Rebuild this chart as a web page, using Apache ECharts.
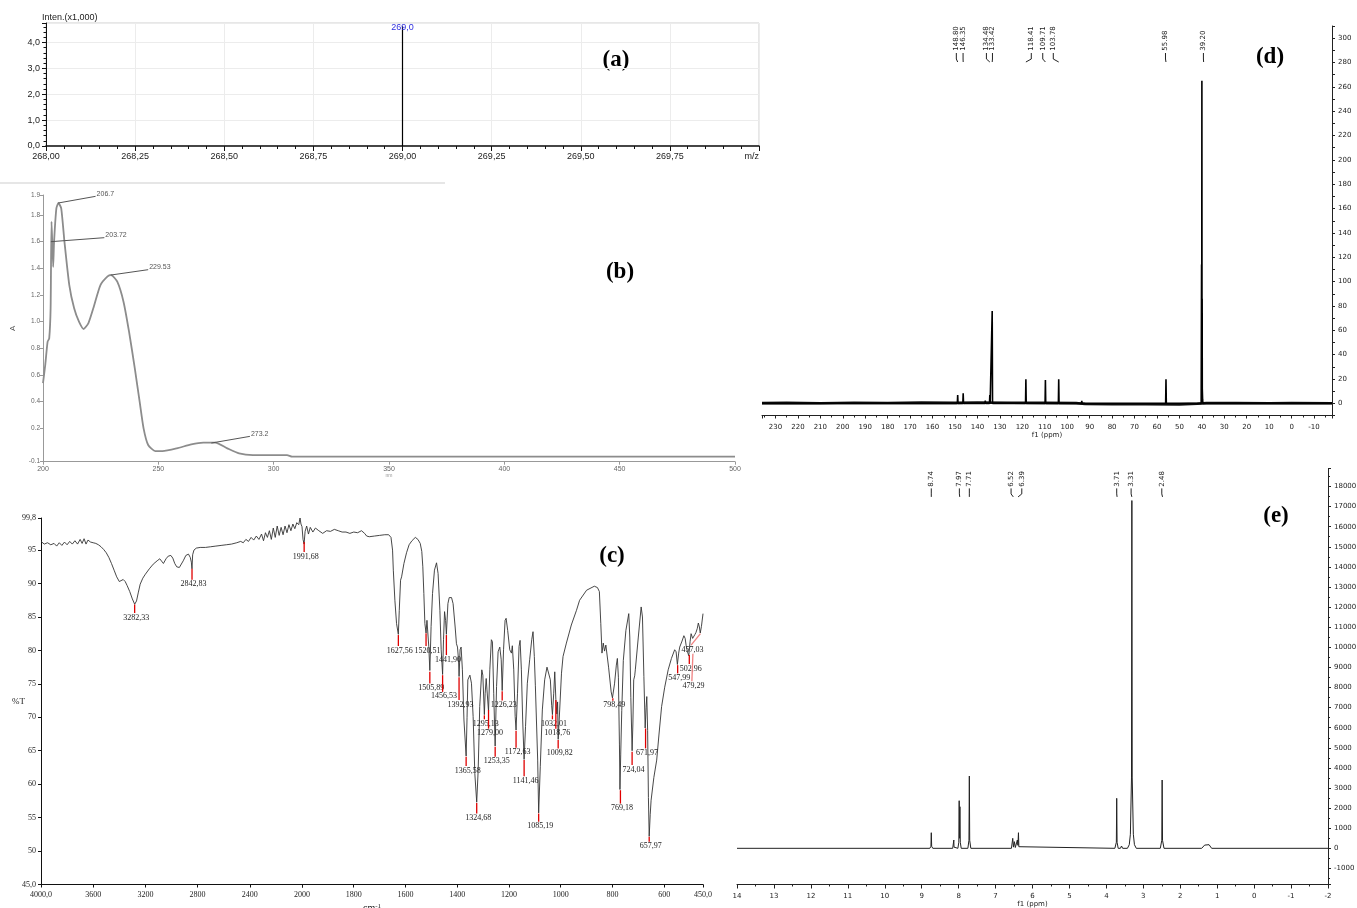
<!DOCTYPE html>
<html><head><meta charset="utf-8">
<script src="https://cdn.jsdelivr.net/npm/echarts@6/dist/echarts.min.js"></script>
<style>html,body{margin:0;padding:0;background:#fff}#c{width:1357px;height:908px}</style>
</head><body><div id="c"></div>
<script>
const SANS='Liberation Sans', SERIF='Liberation Serif', NMRF='DejaVu Sans';

// ---------- (a) mass spectrum ----------
const msMz=[269.0];
const msInten=[4.62];
const msLabels=['269,0'];

// ---------- (b) UV-Vis ----------
const uvSpectrum=[[200,0.54],[201,0.68],[202,0.85],[202.7,0.875],[203.3,1.1],[203.7,1.75],[204.4,1.41],[204.8,1.6],[205.8,1.85],[206.7,1.89],[207.9,1.85],[209.3,1.6],[211.4,1.275],[213.5,1.1],[215.6,1.0],[217.6,0.945],[219.7,0.99],[221.8,1.1],[224.9,1.275],[228,1.34],[229.5,1.35],[232.2,1.3],[234.9,1.15],[237.3,0.925],[239.8,0.65],[241.9,0.4],[243.6,0.2],[245.6,0.075],[248.7,0.03],[251.8,0.03],[258,0.05],[264.3,0.08],[269.5,0.093],[274.7,0.093],[279.9,0.05],[285,0.0125],[291,0.0],[305.8,0.0],[308,-0.012],[500,-0.012]];
const uvPeakText=['206.7','203.72','229.53','273.2'];
const uvLeaderFrom=[[206.6,1.89],[203.4,1.6],[229.5,1.35],[273.0,0.09]];
const uvLeaderTo=[[222.8,1.94],[226.6,1.63],[245.6,1.39],[289.7,0.14]];

// ---------- (c) FT-IR ----------
const irSpectrum=[[4000,96.3],[3975,95.9],[3950,96.1],[3925,95.8],[3900,96.0],[3880,95.6],[3860,96.1],[3840,95.7],[3820,96.2],[3800,95.8],[3780,96.3],[3760,95.9],[3740,96.4],[3720,95.9],[3700,96.6],[3685,96.0],[3670,96.7],[3655,95.9],[3640,96.5],[3620,96.2],[3600,96.1],[3580,96.0],[3560,95.8],[3540,95.5],[3520,95.1],[3500,94.6],[3480,93.9],[3460,93.0],[3440,92.0],[3420,91.0],[3400,90.3],[3385,90.4],[3370,90.6],[3355,90.3],[3340,89.7],[3320,88.8],[3300,87.7],[3282,86.9],[3268,87.4],[3255,88.6],[3240,89.9],[3220,90.8],[3200,91.4],[3170,92.2],[3140,92.9],[3110,93.4],[3090,93.7],[3075,93.6],[3062,93.0],[3052,92.9],[3042,93.7],[3025,94.1],[3005,94.2],[2990,93.8],[2975,93.0],[2960,92.5],[2940,92.4],[2925,92.6],[2910,93.4],[2890,94.2],[2870,94.4],[2856,93.9],[2848,93.2],[2843,92.2],[2838,94.3],[2828,95.0],[2810,95.3],[2780,95.4],[2740,95.4],[2700,95.5],[2660,95.6],[2620,95.7],[2580,95.8],[2540,95.9],[2500,96.1],[2470,96.3],[2450,96.1],[2430,96.6],[2410,96.3],[2390,96.9],[2370,96.5],[2350,97.1],[2330,96.6],[2310,97.4],[2295,96.4],[2280,97.6],[2265,96.9],[2250,97.9],[2235,96.6],[2220,98.3],[2205,96.9],[2190,98.6],[2175,97.2],[2160,98.4],[2145,97.3],[2130,98.6],[2115,97.6],[2100,98.8],[2085,97.9],[2070,98.9],[2055,98.2],[2040,99.1],[2025,98.8],[2015,99.8],[2008,98.9],[2000,98.5],
[1996,96.6],[1992,95.9],[1988,97.8],[1982,98.6],[1975,97.4],[1968,98.4],[1958,97.7],[1948,98.3],[1935,97.9],[1920,97.5],[1905,97.9],[1890,97.8],[1875,98.1],[1860,97.9],[1845,97.7],[1830,97.7],[1815,97.5],[1800,97.7],[1785,97.6],[1770,97.9],[1758,97.5],[1750,97.1],[1740,97.0],[1720,97.1],[1700,97.2],[1680,97.3],[1665,97.3],[1656,96.9],[1650,95.0],[1647,92.0],[1641,87.5],[1634.5,84.0],[1627.6,82.4],[1624,86.0],[1619,90.5],[1615,91.0],[1611,90.8],[1606,93.0],[1596,94.6],[1586,95.8],[1575,96.4],[1562,96.9],[1552,96.6],[1543,96.0],[1537,94.8],[1533,92.5],[1529,88.5],[1525,84.0],[1520.5,82.6],[1517,84.5],[1513,84.3],[1510,80.6],[1505.9,77.0],[1501,83.6],[1495.5,88.5],[1488,92.0],[1480,93.1],[1474,91.5],[1467,86.0],[1462,80.1],[1456.5,76.4],[1453,81.6],[1449,85.8],[1445,84.5],[1441.9,82.4],[1436,87.0],[1431,87.9],[1422,87.9],[1416,87.0],[1408,83.5],[1403,81.0],[1399,80.5],[1395,78.6],[1392.9,76.1],[1389,80.1],[1385,80.5],[1380,77.1],[1374,69.6],[1365.6,64.2],[1362,70.0],[1359,75.6],[1351,76.3],[1345,75.1],[1338.5,70.1],[1332,61.6],[1324.7,57.3],[1319,62.1],[1313,71.6],[1305,77.1],[1301,76.3],[1295.1,70.4],[1292,73.6],[1288,75.8],[1285,74.1],[1279,70.9],[1274,77.1],[1268,81.6],[1264,81.3],[1259,73.6],[1253.4,65.7],[1248,74.6],[1242,79.8],[1235.5,80.5],[1230,78.6],[1226.2,74.0],[1221,80.1],[1215,84.5],[1211,84.8],[1205,83.0],[1197,80.1],[1190.5,79.6],[1187,80.7],[1181.5,77.1],[1176,70.1],[1172.6,68.1],[1167,73.6],[1161,80.6],[1157,81.5],[1152,77.1],[1147,69.6],[1141.5,63.7],[1136,68.6],[1129,75.1],[1120,78.6],[1112,81.6],[1107,82.8],[1102,79.1],[1098,74.8],[1094,74.6],[1089,63.6],[1085.2,55.7],[1079,62.6],[1071,71.1],[1062,75.6],[1053,77.5],[1046,77.6],[1040,75.6],[1035,71.8],[1032,70.4],[1027,73.6],[1023,76.8],[1018.8,72.7],[1015,70.5],[1012,72.3],[1009.8,66.7],[1004,71.1],[997,76.6],[991,79.1],[978,81.1],[959,83.8],[939,86.0],[927,87.5],[900,89.0],[870,89.6],[858,89.4],[850.6,88.8],[845,84.0],[840.5,79.6],[835.5,81.1],[830.5,79.9],[825.5,80.8],[815,77.5],[805,73.8],[800,72.9],[798.5,72.8],[792,75.0],[785,77.8],[781,78.8],[777,76.0],[773,66.0],[771,59.2],[768,64.5],[764,71.0],[758,78.5],[748,83.0],[737,85.5],[733,82.0],[729,73.0],[724,65.0],[721,69.0],[717.8,75.6],[714,76.2],[711.6,77.1],[700,82.0],[689,86.5],[684,85.0],[678.5,76.1],[673.5,68.4],[670,71.5],[667.3,73.1],[664,68.0],[661,58.0],[658,52.2],[654,55.5],[650.6,57.6],[640,61.0],[629,63.6],[620,67.5],[610,71.6],[598,74.5],[584.6,77.1],[572,78.8],[559.5,80.1],[554,79.8],[549,77.9],[544,79.6],[540,80.5],[531,81.4],[523.9,82.2],[519,81.8],[515,80.7],[510,79.8],[505,79.2],[500,81.3],[496,82.5],[490,81.8],[486,81.6],[481,82.4],[477,82.7],[472,83.3],[468,84.1],[464,83.5],[460.6,82.6],[456,83.6],[450,85.5]];
const irPeakWave=[3282.33,2842.83,1991.68,1627.56,1520.51,1505.89,1456.53,1441.90,1392.93,1365.58,1324.68,1295.13,1279.00,1253.35,1226.23,1172.63,1141.46,1085.19,1032.01,1018.76,1009.82,798.49,769.18,724.04,671.97,657.97,547.99,502.96,479.29,457.03];
const irMarkTop=[86.88,92.22,96.21,82.3,82.55,76.8,76.3,82.3,75.97,64.1,57.2,70.3,71.1,65.6,73.9,68.0,63.6,55.6,70.3,72.6,66.6,72.83,59.1,64.85,68.34,52.13,77.8,79.3,79.5,82.5];
const irMarkBottom=[85.58,90.57,94.71,80.66,80.66,75.07,73.8,79.3,72.58,62.7,55.6,69.7,68.3,64.1,72.5,65.45,61.2,54.4,69.7,68.3,65.35,72.47,57.1,62.85,65.35,51.38,76.57,77.96,75.4,80.8];
const irLeaderStart={'479.29':489,'457.03':460};
const irLeaderEnd={'479.29':493,'457.03':496};

// ---------- (d) 13C NMR ----------
const c13PeakPpm=[148.80,146.35,134.48,133.42,118.41,109.71,103.78,55.98];
const c13PeakInt=[6.8,8.2,6.8,75.9,19.7,19.2,19.7,19.7];
const c13MinorPpm=[136.5,93.5];
const c13MinorInt=[2.2,2.0];
const dmsoPpm=[40.3,40.12,40.05,39.98,39.92,39.86,39.8,39.74,39.66,39.5];
const dmsoInt=[0,114,25,265,30,86,12,11,3,0];
const c13BasePpm=[236,225,210,195,180,165,150,140,125,110,96,92,80,65,50,42,38,25,10,0,-18];
const c13BaseInt=[0.2,0.4,0.1,0.5,0.3,0.6,0.4,0.7,0.5,0.4,0.2,-0.5,-0.7,-0.8,-0.9,-0.4,0.2,0.3,0.1,0.2,0.1];
const c13LabelText=['148.80','146.35','134.48','133.42','118.41','109.71','103.78','55.98','39.20'];
const c13LabelPos=[149.4,146.4,136.0,133.3,116.0,110.9,106.2,56.2,39.3];
const c13LabelTarget=[148.80,146.35,134.48,133.42,118.41,109.71,103.78,55.98,39.20];

// ---------- (e) 1H NMR ----------
const h1Spectrum=[[14,0],[8.78,0],[8.75,100],[8.74,776],[8.73,100],[8.70,0],[8.16,0],[8.135,60],[8.13,413],[8.125,60],[8.10,0],[8.02,0],[7.995,300],[7.985,2368],[7.975,500],[7.965,2070],[7.955,300],[7.93,0],[7.75,0],[7.72,400],[7.71,3597],[7.70,400],[7.67,0],[6.57,0],[6.545,80],[6.535,497],[6.515,60],[6.49,330],[6.465,40],[6.42,80],[6.41,413],[6.395,150],[6.38,776],[6.37,80],[6.34,0],[3.77,0],[3.73,300],[3.72,2487],[3.71,300],[3.68,0],[3.62,0],[3.59,115],[3.56,0],[3.43,0],[3.38,180],[3.35,700],[3.32,3500],[3.31,17300],[3.30,3500],[3.27,700],[3.24,180],[3.19,0],[2.54,0],[2.50,400],[2.49,3398],[2.48,400],[2.44,0],[1.42,0],[1.34,160],[1.29,90],[1.22,180],[1.15,0],[-2,0]];
const h1LabelText=['8.74','7.97','7.71','6.52','6.39','3.71','3.31','2.48'];
const h1LabelPos=[8.74,7.98,7.71,6.58,6.29,3.72,3.33,2.50];
const h1LabelTarget=[8.74,7.97,7.71,6.52,6.39,3.71,3.31,2.48];

// ---------- helpers ----------
const noSplit={show:false};
function nmrLabels(xi,yi,pos,target,texts,o){
  return {type:'custom',xAxisIndex:xi,yAxisIndex:yi,clip:false,silent:true,z:6,
    data:pos.map((p,i)=>[p,target[i]]),
    renderItem(params,api){
      const i=params.dataIndex, y0=params.coordSys.y;
      const xl=api.coord([api.value(0),0])[0];
      const xp=api.coord([api.value(1),0])[0];
      return {type:'group',children:[
        {type:'text',x:xl,y:y0+o.tb,rotation:Math.PI/2,style:{text:texts[i],fill:'#222',font:'7px "'+NMRF+'"',align:'left',verticalAlign:'middle'}},
        {type:'line',shape:{x1:xl,y1:y0+o.l1,x2:xl,y2:y0+o.l2},style:{stroke:'#222',lineWidth:1}},
        {type:'line',shape:{x1:xl,y1:y0+o.l2,x2:xp,y2:y0+o.l3},style:{stroke:'#222',lineWidth:1}}
      ]};
    }};
}
function irMarks(xi,yi,filterFn){
  const data=irPeakWave.map((w,i)=>[w,irMarkTop[i],irMarkBottom[i]]).filter(d=>filterFn(d[0]));
  return {type:'custom',xAxisIndex:xi,yAxisIndex:yi,clip:false,silent:true,z:6,data,
    renderItem(params,api){
      const w=api.value(0);
      const key=String(w);
      const ws=irLeaderStart[key]!==undefined?irLeaderStart[key]:w;
      const we=irLeaderEnd[key]!==undefined?irLeaderEnd[key]:w;
      const p1=api.coord([ws,api.value(1)]);
      const p2=api.coord([we,api.value(2)]);
      const col=irLeaderStart[key]!==undefined?'#f08282':'#e00000';
      return {type:'group',children:[
        {type:'line',shape:{x1:p1[0],y1:p1[1],x2:p2[0],y2:p2[1]},style:{stroke:col,lineWidth:1.3}},
        {type:'text',x:p2[0]+1.5,y:p2[1]+0.5,style:{text:w.toFixed(2).replace('.',','),fill:'#222',font:'8px "'+SERIF+'"',align:'center',verticalAlign:'top'}}
      ]};
    }};
}

// build 13C stick trace from peak arrays
const c13Trace=[];
c13PeakPpm.forEach((p,i)=>{c13Trace.push([p+0.15,0],[p,c13PeakInt[i]],[p-0.15,0]);});
c13MinorPpm.forEach((p,i)=>{c13Trace.push([p+0.15,0],[p,c13MinorInt[i]],[p-0.15,0]);});
dmsoPpm.forEach((p,i)=>c13Trace.push([p,dmsoInt[i]]));
c13Trace.push([236,0],[-18,0]);
c13Trace.sort((a,b)=>b[0]-a[0]);
const c13Base=c13BasePpm.map((p,i)=>[p,c13BaseInt[i]]);

const msData=[];
msMz.forEach((m,i)=>{msData.push([m,0],[m,msInten[i]]);});

const irHi=irSpectrum.filter(p=>p[0]>=2000);
const irLo=irSpectrum.filter(p=>p[0]<=2000);

const gridBase={containLabel:false,outerBoundsMode:'none'};
const option={
  animation:false,
  backgroundColor:'#ffffff',
  textStyle:{fontFamily:SANS},
  grid:[
    Object.assign({left:46,top:23,width:713,height:123,show:true,borderColor:'#cfcfcf',borderWidth:1},gridBase),
    Object.assign({left:43,top:195,width:692,height:266.7},gridBase),
    Object.assign({left:41,top:518,width:261,height:366.5},gridBase),
    Object.assign({left:302,top:518,width:401,height:366.5},gridBase),
    Object.assign({left:762,top:26,width:570,height:389.5},gridBase),
    Object.assign({left:737,top:468.4,width:591,height:416.1},gridBase)
  ],
  xAxis:[
    {gridIndex:0,type:'value',min:268,max:270,interval:0.25,
     axisLine:{onZero:false,lineStyle:{color:'#111',width:1.5}},
     axisTick:{length:5,lineStyle:{color:'#111'}},
     minorTick:{show:true,splitNumber:5,length:3,lineStyle:{color:'#111'}},
     axisLabel:{margin:6,fontSize:9,color:'#222',fontFamily:SANS,alignMaxLabel:'right',
       formatter:v=>v===270?'m/z':v.toFixed(2).replace('.',',')},
     splitLine:{show:true,lineStyle:{color:'#ececec'}}},
    {gridIndex:1,type:'value',min:200,max:500,interval:50,
     axisLine:{onZero:false,lineStyle:{color:'#999',width:1}},
     axisTick:{length:3,lineStyle:{color:'#999'}},
     axisLabel:{margin:4,fontSize:7,color:'#666',fontFamily:SANS},
     splitLine:noSplit,
     name:'nm',nameLocation:'middle',nameGap:10,nameTextStyle:{fontSize:5,color:'#999'}},
    {gridIndex:2,type:'value',min:2000,max:4000,interval:400,inverse:true,
     axisLine:{onZero:false,lineStyle:{color:'#111',width:1}},
     axisTick:{length:3,lineStyle:{color:'#111'}},
     axisLabel:{margin:6,fontSize:8,color:'#222',fontFamily:SERIF,
       formatter:v=>v===4000?'4000,0':(v===2000?'':String(v))},
     splitLine:noSplit},
    {gridIndex:3,type:'value',min:450,max:2000,splitNumber:8,inverse:true,
     axisLine:{onZero:false,lineStyle:{color:'#111',width:1}},
     axisTick:{length:3,lineStyle:{color:'#111'}},
     axisLabel:{margin:6,fontSize:8,color:'#222',fontFamily:SERIF,showMinLabel:true,showMaxLabel:true,
       formatter:v=>v===450?'450,0':String(Math.round(v))},
     splitLine:noSplit},
    {gridIndex:4,type:'value',min:-18,max:236,splitNumber:25,inverse:true,
     axisLine:{onZero:false,lineStyle:{color:'#222',width:1}},
     axisTick:{length:3,lineStyle:{color:'#222'}},
     minorTick:{show:true,splitNumber:2,length:2,lineStyle:{color:'#222'}},
     axisLabel:{margin:8,fontSize:7,color:'#222',fontFamily:NMRF,
       formatter:v=>(Math.round(v)===v && v%10===0)?String(v):''},
     splitLine:noSplit,
     name:'f1 (ppm)',nameLocation:'middle',nameGap:15,nameTextStyle:{fontSize:7,color:'#222',fontFamily:NMRF}},
    {gridIndex:5,type:'value',min:-2,max:14,interval:1,inverse:true,
     axisLine:{onZero:false,lineStyle:{color:'#222',width:1}},
     axisTick:{length:4,lineStyle:{color:'#222'}},
     minorTick:{show:true,splitNumber:2,length:2,lineStyle:{color:'#222'}},
     axisLabel:{margin:8,fontSize:7,color:'#222',fontFamily:NMRF},
     splitLine:noSplit,
     name:'f1 (ppm)',nameLocation:'middle',nameGap:15,nameTextStyle:{fontSize:7,color:'#222',fontFamily:NMRF}}
  ],
  yAxis:[
    {gridIndex:0,type:'value',min:0,max:4.75,interval:1,
     axisLine:{show:true,onZero:false,lineStyle:{color:'#111',width:1}},
     axisTick:{show:true,length:4,lineStyle:{color:'#111'}},
     minorTick:{show:true,splitNumber:5,length:2.5,lineStyle:{color:'#111'}},
     axisLabel:{margin:6,fontSize:9,color:'#222',fontFamily:SANS,
       formatter:v=>Number.isInteger(v)?v.toFixed(1).replace('.',','):''},
     splitLine:{show:true,lineStyle:{color:'#ececec'}},
     name:'Inten.(x1,000)',nameLocation:'end',nameGap:1,nameTextStyle:{fontSize:9,color:'#222',align:'left',fontFamily:SANS,padding:[0,0,0,-4]}},
    {gridIndex:1,type:'value',min:-0.05,max:1.95,splitNumber:10,
     axisLine:{show:true,onZero:false,lineStyle:{color:'#999',width:1}},
     axisTick:{show:true,length:3,lineStyle:{color:'#999'}},
     axisLabel:{margin:3,fontSize:6.5,color:'#666',fontFamily:SANS,showMinLabel:true,showMaxLabel:true,
       formatter:v=>v<0?'-0.1':(Math.abs(v)<1e-9?'-0.0':(v>1.9?'1.9':v.toFixed(1)))},
     splitLine:noSplit,
     name:'A',nameLocation:'middle',nameRotate:90,nameGap:26,nameMoveOverlap:false,nameTextStyle:{fontSize:8,color:'#555'}},
    {gridIndex:2,type:'value',min:45,max:99.8,interval:5,
     axisLine:{show:true,onZero:false,lineStyle:{color:'#111',width:1}},
     axisTick:{show:true,length:3,lineStyle:{color:'#111'}},
     axisLabel:{margin:5,fontSize:8,color:'#222',fontFamily:SERIF,showMaxLabel:true,
       formatter:v=>v===45?'45,0':(v>99?'99,8':String(v))},
     splitLine:noSplit,
     name:'%T',nameLocation:'middle',nameRotate:0,nameGap:16,nameMoveOverlap:false,nameTextStyle:{fontSize:9,color:'#222',fontFamily:SERIF}},
    {gridIndex:3,type:'value',min:45,max:99.8,interval:5,show:false,splitLine:noSplit},
    {gridIndex:4,type:'value',position:'right',min:-10,max:310,interval:10,
     axisLine:{show:true,onZero:false,lineStyle:{color:'#222',width:1}},
     axisTick:{show:true,length:3,lineStyle:{color:'#222'}},
     axisLabel:{margin:6,fontSize:7,color:'#222',fontFamily:NMRF,
       formatter:v=>(v>=0 && v<=300 && v%20===0)?String(v):''},
     splitLine:noSplit},
    {gridIndex:5,type:'value',position:'right',min:-1800,max:18900,splitNumber:21,
     axisLine:{show:true,onZero:false,lineStyle:{color:'#222',width:1}},
     axisTick:{show:true,length:3,lineStyle:{color:'#222'}},
     minorTick:{show:true,splitNumber:2,length:2,lineStyle:{color:'#222'}},
     axisLabel:{margin:6,fontSize:7,color:'#222',fontFamily:NMRF,
       formatter:v=>(v%1000===0 && v<=18000)?String(v):''},
     splitLine:noSplit}
  ],
  series:[
    {type:'line',xAxisIndex:0,yAxisIndex:0,data:msData,showSymbol:false,lineStyle:{color:'#000',width:1.2},z:3},
    {type:'custom',xAxisIndex:0,yAxisIndex:0,clip:false,silent:true,z:6,
     data:msMz.map((m,i)=>[m,msInten[i]]),
     renderItem(params,api){
       const p=api.coord([api.value(0),api.value(1)]);
       return {type:'text',x:p[0],y:p[1]+1,style:{text:msLabels[params.dataIndex],fill:'#2f2fe0',font:'9px "'+SANS+'"',align:'center',verticalAlign:'middle'}};
     }},
    {type:'line',xAxisIndex:1,yAxisIndex:1,data:uvSpectrum,showSymbol:false,smooth:0.2,lineStyle:{color:'#8c8c8c',width:1.8}},
    {type:'custom',xAxisIndex:1,yAxisIndex:1,clip:false,silent:true,z:6,
     data:uvLeaderFrom.map((f,i)=>[f[0],f[1],uvLeaderTo[i][0],uvLeaderTo[i][1]]),
     renderItem(params,api){
       const p1=api.coord([api.value(0),api.value(1)]);
       const p2=api.coord([api.value(2),api.value(3)]);
       return {type:'group',children:[
         {type:'line',shape:{x1:p1[0],y1:p1[1],x2:p2[0],y2:p2[1]},style:{stroke:'#555',lineWidth:1}},
         {type:'text',x:p2[0]+1,y:p2[1]+1,style:{text:uvPeakText[params.dataIndex],fill:'#555',font:'7px "'+SANS+'"',align:'left',verticalAlign:'bottom'}}
       ]};
     }},
    {type:'line',xAxisIndex:2,yAxisIndex:2,data:irHi,showSymbol:false,lineStyle:{color:'#333',width:0.9}},
    {type:'line',xAxisIndex:3,yAxisIndex:3,data:irLo,showSymbol:false,lineStyle:{color:'#333',width:0.9}},
    irMarks(2,2,w=>w>=2000),
    irMarks(3,3,w=>w<2000),
    {type:'line',xAxisIndex:4,yAxisIndex:4,data:c13Base,showSymbol:false,lineStyle:{color:'#111',width:2.6}},
    {type:'line',xAxisIndex:4,yAxisIndex:4,data:c13Trace,showSymbol:false,lineStyle:{color:'#000',width:1.6}},
    nmrLabels(4,4,c13LabelPos,c13LabelTarget,c13LabelText,{tb:24.7,l1:27,l2:33,l3:36}),
    {type:'line',xAxisIndex:5,yAxisIndex:5,data:h1Spectrum,showSymbol:false,lineStyle:{color:'#222',width:1}},
    nmrLabels(5,5,h1LabelPos,h1LabelTarget,h1LabelText,{tb:18.3,l1:20,l2:25.5,l3:28.5})
  ],
  graphic:[
    {type:'line',shape:{x1:0,y1:183,x2:445,y2:183},style:{stroke:'#e6e6e6',lineWidth:2},silent:true},
    {type:'text',x:616,y:60,style:{text:'(a)',font:'bold 23px "'+SERIF+'"',fill:'#000',align:'center',verticalAlign:'middle'}},
    {type:'text',x:620,y:272,style:{text:'(b)',font:'bold 23px "'+SERIF+'"',fill:'#000',align:'center',verticalAlign:'middle'}},
    {type:'text',x:612,y:556,style:{text:'(c)',font:'bold 23px "'+SERIF+'"',fill:'#000',align:'center',verticalAlign:'middle'}},
    {type:'text',x:1270,y:57,style:{text:'(d)',font:'bold 23px "'+SERIF+'"',fill:'#000',align:'center',verticalAlign:'middle'}},
    {type:'text',x:1276,y:516,style:{text:'(e)',font:'bold 23px "'+SERIF+'"',fill:'#000',align:'center',verticalAlign:'middle'}},
    {type:'text',x:372,y:903,style:{text:'{m|cm}{s|-1}',font:'10px "'+SERIF+'"',fill:'#222',align:'center',verticalAlign:'top',
      rich:{m:{fontSize:10,fontFamily:SERIF,fill:'#222'},s:{fontSize:7,fontFamily:SERIF,fill:'#222',verticalAlign:'top'}}}}
  ]
};
const chart=echarts.init(document.getElementById('c'),null,{renderer:'canvas',width:1357,height:908});
chart.setOption(option);
</script></body></html>
